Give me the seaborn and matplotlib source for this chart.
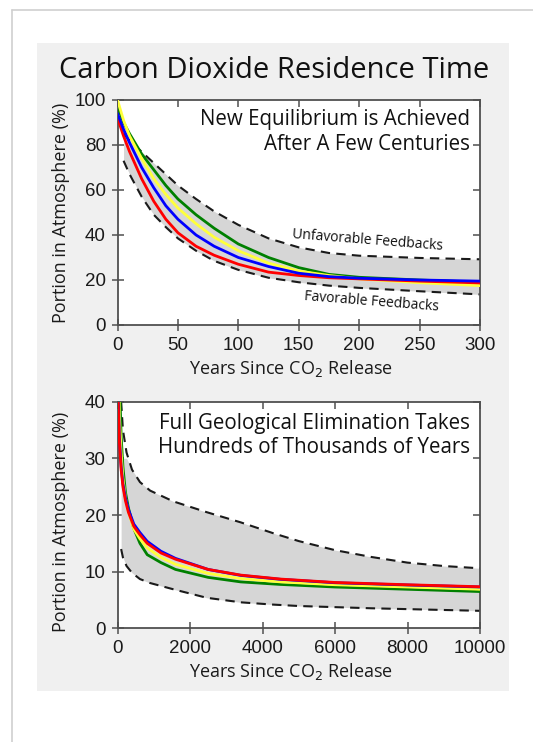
import numpy as np
import pandas as pd
import matplotlib
matplotlib.use("Agg")
import matplotlib.pyplot as plt
from matplotlib.patches import Rectangle
from matplotlib.lines import Line2D
import seaborn as sns

# ---- first centuries after release (years 0-300) ----
years_short = [0, 5, 10, 20, 30, 40, 50, 65, 80, 100, 125, 150, 175, 200, 250, 300]
red_short = [92, 84, 77, 65, 55, 47, 41, 35, 31, 27, 23.5, 22, 21, 20.5, 19.5, 18.7]
blue_short = [94, 87, 81, 70, 61, 53, 47, 40, 35, 30, 26, 23, 21.5, 20.8, 20, 19.5]
yellow_short = [100, 91, 84, 74, 65, 58, 52, 45, 39, 33, 27.5, 24, 22, 20.5, 18.8, 17.5]
green_short = [97, 90, 85, 76, 69, 62, 56, 49, 43, 36, 30, 25.5, 22.5, 21.2, 20, 19]

band_short_x = [5, 10, 20, 30, 40, 50, 65, 80, 100, 125, 150, 175, 200, 250, 300]
unfavorable_short = [85, 82, 77, 72, 67, 62, 56, 50.5, 44.5, 38.5, 34.5, 32, 30.8, 29.8, 29.2]
favorable_short = [73, 67, 57, 49, 43.5, 38.5, 33, 28.5, 24.5, 21, 19, 17.5, 16.5, 15, 13.6]

# ---- geological time scale (years 0-10000) ----
years_long = [0, 20, 50, 100, 150, 220, 300, 450, 620, 820, 1200, 1600, 2500, 3400, 4500, 6000, 8000, 10000]
red_long = [100, 40, 33, 28, 25, 22.5, 20.5, 18, 16.5, 15, 13.3, 12.2, 10.4, 9.4, 8.7, 8.1, 7.7, 7.35]
blue_long = [100, 41, 34, 28.6, 25.5, 23, 21, 18.4, 16.9, 15.35, 13.6, 12.35, 10.4, 9.35, 8.65, 8.05, 7.65, 7.3]
yellow_long = [100, 55, 38, 31, 26.5, 23, 20.6, 17.5, 15.8, 14.2, 12.5, 11.3, 9.7, 8.8, 8.2, 7.7, 7.3, 6.9]
green_long = [100, 70, 45, 34, 28.5, 24, 21.3, 17.6, 15, 13, 11.6, 10.4, 9.0, 8.2, 7.75, 7.3, 6.9, 6.5]

band_long_x = [100, 150, 250, 400, 620, 900, 1540, 2460, 3400, 4290, 5000, 6000, 7000, 8000, 9000, 10000]
unfavorable_long = [40, 35, 31, 28, 25.8, 24.3, 22.4, 20.5, 18.7, 16.8, 15.4, 13.8, 12.6, 11.6, 11.0, 10.6]
favorable_long = [14, 12.5, 11, 9.8, 8.7, 8.0, 6.9, 5.4, 4.6, 4.2, 3.95, 3.75, 3.55, 3.4, 3.25, 3.1]

short_ticks = [0, 50, 100, 150, 200, 250, 300]
short_yticks = [0, 20, 40, 60, 80, 100]
long_ticks = [0, 2000, 4000, 6000, 8000, 10000]
long_yticks = [0, 10, 20, 30, 40]

COLORS = {"red": "#ff0000", "blue": "#0000ff", "yellow": "#ffff3c", "green": "#008000"}
BAND = "#d6d6d6"
AXIS = "#505050"
LABEL_FONT = ["Open Sans", "DejaVu Sans"]
TICK_FONT = "Liberation Sans"

sns.set_theme(style="ticks")
plt.rcParams["font.family"] = LABEL_FONT

W, H = 533, 742
fig = plt.figure(figsize=(W / 100, H / 100), dpi=100, facecolor="white")

# page frame and grey panel
fig.add_artist(Line2D([12 / W, 1], [1 - 10 / H, 1 - 10 / H], transform=fig.transFigure,
                      color="#cfcfcf", lw=1.2))
fig.add_artist(Line2D([12 / W, 12 / W], [0, 1 - 10 / H], transform=fig.transFigure,
                      color="#cfcfcf", lw=1.2))
fig.patches.append(Rectangle((37 / W, 1 - 691 / H), (509 - 37) / W, (691 - 43) / H,
                             transform=fig.transFigure, facecolor="#f0f0f0",
                             edgecolor="none", zorder=-5))
# caption line running above the page (only its lowest strokes fall inside)
fig.text(15 / W, 1 + 6 / H, "over time, it can be shown graphically as represented below",
         fontsize=18, color="#222222", va="baseline", ha="left", family=LABEL_FONT)

fig.text(274 / W, 1 - 70 / H, "Carbon Dioxide Residence Time", ha="center", va="center",
         fontsize=21, color="#111111", family=LABEL_FONT)

ax1 = fig.add_axes([117.5 / W, 1 - 325 / H, 362.5 / W, 225 / H])
ax2 = fig.add_axes([117.5 / W, 1 - 628.4 / H, 362.5 / W, 226.8 / H])


def draw_panel(ax, x, series, order, bx, upper, lower, fill_cap=None):
    up = np.asarray(upper, dtype=float)
    if fill_cap is not None:
        up = np.minimum(up, fill_cap)
    ax.fill_between(bx, lower, up, color=BAND, lw=0, zorder=1)
    for vals in (upper, lower):
        sns.lineplot(x=bx, y=vals, ax=ax, color="#1a1a1a", lw=1.5,
                     linestyle=(0, (4.5, 3)), zorder=2, sort=False)
    for name in order:
        sns.lineplot(x=x, y=series[name], ax=ax, color=COLORS[name], lw=2.0,
                     zorder=3, sort=False)


draw_panel(ax1, years_short,
           {"red": red_short, "blue": blue_short, "yellow": yellow_short, "green": green_short},
           ["green", "yellow", "red", "blue"],
           band_short_x, unfavorable_short, favorable_short)
draw_panel(ax2, years_long,
           {"red": red_long, "blue": blue_long, "yellow": yellow_long, "green": green_long},
           ["green", "yellow", "blue", "red"],
           band_long_x, unfavorable_long, favorable_long, fill_cap=30)

for ax, xt, yt, xl, yl, ylab_y in ((ax1, short_ticks, short_yticks, (0, 300), (0, 100), 0.5),
                                   (ax2, long_ticks, long_yticks, (0, 10000), (0, 40), 0.47)):
    ax.set_xlim(*xl)
    ax.set_ylim(*yl)
    ax.set_facecolor("white")
    for s in ax.spines.values():
        s.set_visible(True)
        s.set_color(AXIS)
        s.set_linewidth(1.3)
    ax.set_xticks(xt)
    ax.set_yticks(yt)
    ax.tick_params(axis="both", which="major", direction="inout", length=9, width=1.1,
                   color=AXIS, labelsize=13.5, labelcolor="#1a1a1a", pad=4,
                   labelfontfamily=TICK_FONT, top=False, right=False)
    # inward ticks on the top and right edges
    axt = ax.secondary_xaxis("top")
    axt.set_xticks(xt)
    axt.tick_params(direction="in", length=5, width=1.1, color=AXIS, labeltop=False)
    axt.spines["top"].set_visible(False)
    axr = ax.secondary_yaxis("right")
    axr.set_yticks(yt)
    axr.tick_params(direction="in", length=5, width=1.1, color=AXIS, labelright=False)
    axr.spines["right"].set_visible(False)

    ax.set_xlabel("Years Since CO$_2$ Release", fontsize=13, color="#1a1a1a")
    ax.xaxis.set_label_coords(0.479, -0.145)
    ax.set_ylabel("Portion in Atmosphere (%)", fontsize=13, color="#1a1a1a")
    ax.yaxis.set_label_coords(-0.131, ylab_y)

ax1.text(291.7, 85.8, "New Equilibrium is Achieved\nAfter A Few Centuries", ha="right",
         va="center", multialignment="right", fontsize=14.8, linespacing=1.2,
         color="#111111", zorder=5)
ax1.text(207, 37.8, "Unfavorable Feedbacks", ha="center", va="center", rotation=-4.5,
         fontsize=10, color="#111111", zorder=5)
ax1.text(210.6, 10.4, "Favorable Feedbacks", ha="center", va="center", rotation=-4.5,
         fontsize=10, color="#111111", zorder=5)
ax2.text(9711, 34.0, "Full Geological Elimination Takes\nHundreds of Thousands of Years",
         ha="right", va="center", multialignment="right", fontsize=14.8, linespacing=1.2,
         color="#111111", zorder=5)

fig.savefig("out.png", dpi=100, facecolor="white")
